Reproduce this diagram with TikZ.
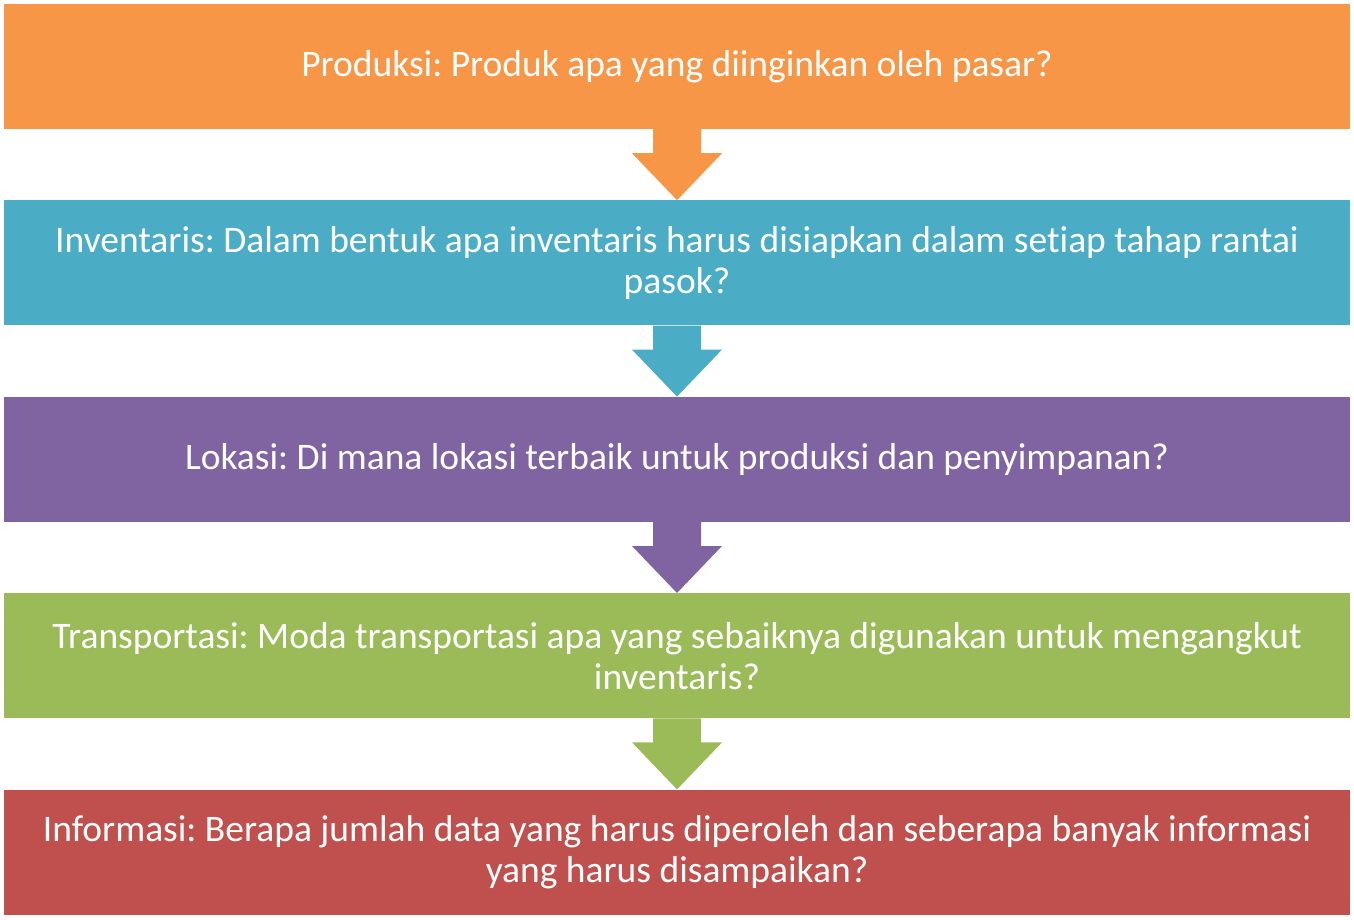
\documentclass[tikz,border=0pt]{standalone}
\usepackage{fontspec}
\setmainfont{Carlito}[Ligatures=CommonOff]
\usetikzlibrary{positioning,calc}
\frenchspacing
\definecolor{prodorange}{HTML}{F79646}
\definecolor{invblue}{HTML}{4BACC6}
\definecolor{lokpurple}{HTML}{8064A2}
\definecolor{trgreen}{HTML}{9BBB59}
\definecolor{infred}{HTML}{C0504D}
\newcommand{\flowarrow}[3]{%
  \fill[#3] ($(#1.south)+(-24,0)$) -- ++(0,-24) -- ++(-21,0) -- (#2.north)
    -- ($(#1.south)+(45,-24)$) -- ++(-21,0) -- ++(0,24) -- cycle;}
\begin{document}
\begin{tikzpicture}[x=1pt,y=1pt,
    stage/.style={minimum width=1346pt, minimum height=125pt, inner sep=0pt,
      align=center, text=white, font=\fontsize{37.5}{41}\selectfont}]
        \useasboundingbox (0,0) rectangle (1354,-919);
        %%produksi
          \node[stage, fill=prodorange] (prod) at (677,-66.5)
            {Produksi: Produk apa yang diinginkan oleh pasar?};
        %%inventaris
          \node[stage, fill=invblue, below=71pt of prod] (inv)
            {Inventaris: Dalam bentuk apa inventaris harus disiapkan dalam setiap tahap rantai\\pasok?};
        %%lokasi
          \node[stage, fill=lokpurple, below=71pt of inv] (lok)
            {Lokasi: Di mana lokasi terbaik untuk produksi dan penyimpanan?};
        %%transportasi
          \node[stage, fill=trgreen, below=71pt of lok] (trans)
            {Transportasi: Moda transportasi apa yang sebaiknya digunakan untuk mengangkut\\inventaris?};
        %%informasi
          \node[stage, fill=infred, below=71pt of trans] (info)
            {Informasi: Berapa jumlah data yang harus diperoleh dan seberapa banyak informasi\\yang harus disampaikan?};

        %%arrows
          \flowarrow{prod}{inv}{prodorange}
          \flowarrow{inv}{lok}{invblue}
          \flowarrow{lok}{trans}{lokpurple}
          \flowarrow{trans}{info}{trgreen}
\end{tikzpicture}
\end{document}
